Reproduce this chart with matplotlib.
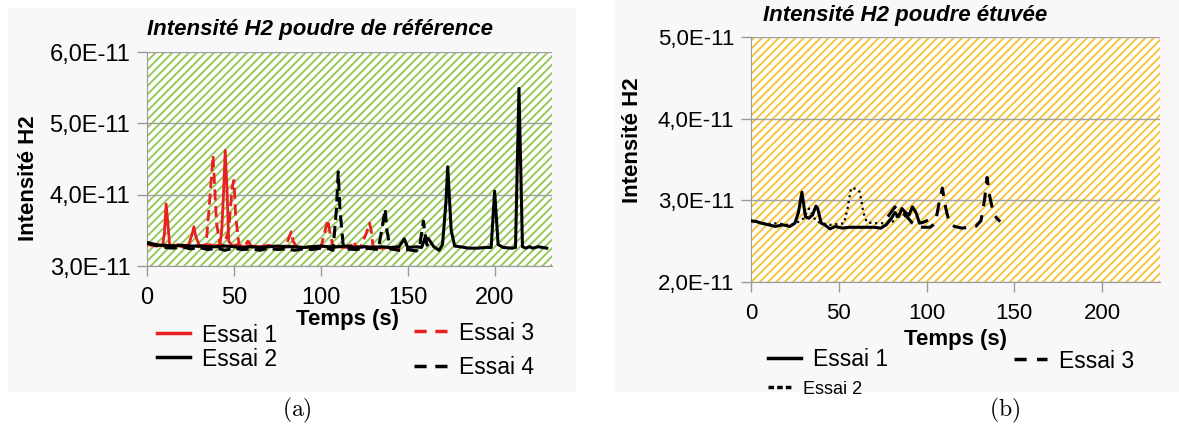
import numpy as np
import matplotlib
matplotlib.use("Agg")
import matplotlib.pyplot as plt
from matplotlib.patches import Rectangle
from matplotlib.lines import Line2D
from matplotlib.ticker import FuncFormatter

plt.rcParams['font.family'] = ['Liberation Sans', 'DejaVu Sans']
plt.rcParams['mathtext.fontset'] = 'cm'
plt.rcParams['hatch.linewidth'] = 1.4

# --- données (a) : poudre de référence, intensité en 1E-11 ---
t_a1 = [0, 3, 6, 9, 10, 11, 12, 13, 15, 18, 21, 24, 26, 27, 28, 30, 33, 36, 39, 42, 43, 44, 45, 46, 47,
        49, 52, 56, 60, 65, 70, 75, 80, 85, 90, 95, 100, 105, 110, 115, 120, 125, 130, 135, 140, 145]
v_a1 = [3.33, 3.31, 3.30, 3.29, 3.45, 3.87, 3.60, 3.30, 3.28, 3.30, 3.28, 3.30, 3.45, 3.55, 3.42, 3.29,
        3.28, 3.30, 3.28, 3.30, 3.50, 4.00, 4.62, 4.10, 3.35, 3.28, 3.30, 3.27, 3.28, 3.27, 3.29, 3.26,
        3.28, 3.27, 3.26, 3.27, 3.28, 3.26, 3.27, 3.26, 3.25, 3.27, 3.26, 3.25, 3.26, 3.25]

t_a2 = [0, 5, 10, 15, 20, 25, 30, 35, 40, 45, 50, 55, 60, 65, 70, 75, 80, 85, 90, 95, 100, 105, 110,
        115, 120, 125, 130, 135, 140, 145, 148, 150, 155, 158, 160, 162, 165, 168, 170, 172, 173, 175,
        177, 180, 185, 190, 195, 198, 200, 202, 205, 210, 212, 214, 216, 218, 220, 222, 225, 230]
v_a2 = [3.32, 3.29, 3.29, 3.28, 3.29, 3.28, 3.28, 3.27, 3.27, 3.28, 3.27, 3.26, 3.27, 3.26, 3.27, 3.28,
        3.27, 3.27, 3.26, 3.27, 3.28, 3.27, 3.27, 3.28, 3.26, 3.27, 3.26, 3.27, 3.26, 3.27, 3.38, 3.26,
        3.27, 3.26, 3.40, 3.38, 3.27, 3.22, 3.30, 3.90, 4.39, 3.50, 3.28, 3.27, 3.25, 3.25, 3.26, 3.26,
        4.05, 3.30, 3.26, 3.25, 3.26, 5.49, 3.27, 3.25, 3.27, 3.25, 3.27, 3.25]

t_a3 = [0, 5, 10, 15, 20, 25, 30, 34, 36, 38, 40, 42, 44, 47, 49, 50, 51, 53, 56, 58, 59, 60, 63, 67,
        72, 76, 80, 82, 83, 84, 86, 90, 95, 100, 102, 104, 105, 107, 110, 115, 118, 119, 120, 123, 126,
        128, 129, 130, 133, 136]
v_a3 = [3.30, 3.28, 3.27, 3.29, 3.27, 3.28, 3.27, 3.30, 3.90, 4.55, 3.60, 3.30, 3.28, 3.50, 4.10, 4.20,
        3.70, 3.28, 3.27, 3.35, 3.32, 3.27, 3.26, 3.28, 3.27, 3.26, 3.28, 3.42, 3.48, 3.35, 3.27, 3.26,
        3.27, 3.26, 3.45, 3.65, 3.50, 3.27, 3.26, 3.27, 3.30, 3.35, 3.28, 3.27, 3.45, 3.60, 3.50, 3.28,
        3.26, 3.25]

t_a4 = [0, 5, 10, 15, 20, 25, 30, 35, 40, 45, 50, 55, 60, 65, 70, 75, 80, 85, 90, 95, 100, 105, 107,
        109, 110, 111, 113, 115, 120, 125, 130, 133, 135, 137, 138, 140, 145, 150, 155, 157, 159, 160,
        161, 163]
v_a4 = [3.33, 3.30, 3.26, 3.25, 3.27, 3.24, 3.26, 3.23, 3.25, 3.22, 3.25, 3.23, 3.24, 3.22, 3.25, 3.23,
        3.24, 3.22, 3.24, 3.23, 3.25, 3.24, 3.22, 3.80, 4.32, 3.80, 3.26, 3.24, 3.23, 3.25, 3.24, 3.23,
        3.50, 3.80, 3.50, 3.24, 3.22, 3.23, 3.21, 3.30, 3.63, 3.45, 3.30, 3.25]

# --- données (b) : poudre étuvée ---
t_b1 = [0, 3, 6, 10, 14, 18, 22, 25, 27, 29, 30, 31, 33, 35, 37, 38, 40, 42, 45, 48, 52, 56, 60, 65,
        70, 74, 77, 80, 82, 84, 86, 88, 90, 92, 94, 96, 98, 100]
v_b1 = [2.75, 2.74, 2.72, 2.70, 2.68, 2.70, 2.68, 2.72, 2.85, 3.10, 2.95, 2.80, 2.78, 2.82, 2.93, 2.90,
        2.72, 2.70, 2.65, 2.68, 2.66, 2.67, 2.67, 2.67, 2.67, 2.66, 2.70, 2.78, 2.85, 2.80, 2.90, 2.85,
        2.82, 2.92, 2.85, 2.72, 2.73, 2.75]

t_b2 = [0, 5, 10, 15, 20, 25, 30, 33, 35, 37, 40, 45, 50, 53, 55, 57, 60, 62, 64, 66, 70, 75, 80, 85, 88]
v_b2 = [2.75, 2.73, 2.71, 2.72, 2.70, 2.71, 2.78, 2.90, 2.82, 2.75, 2.72, 2.70, 2.71, 2.72, 2.90, 3.15,
        3.14, 3.10, 2.85, 2.73, 2.72, 2.72, 2.72, 2.85, 2.80]

t_b3 = [78, 82, 85, 88, 92, 95, 98, 102, 105, 107, 109, 111, 113, 116, 120, 125, 128, 131, 133, 134.5,
        136, 138, 140, 142]
v_b3 = [2.80, 2.92, 2.85, 2.82, 2.72, 2.68, 2.67, 2.67, 2.72, 2.95, 3.15, 2.90, 2.72, 2.68, 2.66, 2.67,
        2.68, 2.75, 3.00, 3.28, 3.05, 2.85, 2.78, 2.74]

W, H = 1179, 432
fig = plt.figure(figsize=(W / 100, H / 100), dpi=100)


def px(x0, y0, x1, y1):
    # pixel box -> fraction de figure
    return [x0 / W, 1 - y1 / H, (x1 - x0) / W, (y1 - y0) / H]


def fmt(v, pos):
    return f"{v / 1e-11:.1f}".replace('.', ',') + "E-11"


# fonds gris des deux panneaux
fig.patches.append(Rectangle((8 / W, 1 - 392 / H), (576 - 8) / W, (392 - 8) / H,
                             transform=fig.transFigure, facecolor='#f8f8f8', edgecolor='none', zorder=-5))
fig.patches.append(Rectangle((615 / W, 1 - 392 / H), (1179 - 615) / W, 392 / H,
                             transform=fig.transFigure, facecolor='#f8f8f8', edgecolor='none', zorder=-5))


def setup(ax, hatch_col, ylo, yhi, tick_fs):
    ax.set_facecolor('none')
    ax.add_patch(Rectangle((0, 0), 1, 1, transform=ax.transAxes, facecolor='white',
                           edgecolor=hatch_col, hatch='////', lw=0, zorder=0))
    ax.set_xlim(0, 233)
    ax.set_ylim(ylo * 1e-11, yhi * 1e-11)
    ax.set_xticks([0, 50, 100, 150, 200])
    ax.set_yticks(np.arange(ylo, yhi + 0.1, 1.0) * 1e-11)
    ax.yaxis.set_major_formatter(FuncFormatter(fmt))
    ax.grid(axis='y', color='#a0a0a0', lw=1)
    ax.set_axisbelow(True)
    for s in ['top', 'right']:
        ax.spines[s].set_visible(False)
    for s in ['left', 'bottom']:
        ax.spines[s].set_color('#9a9a9a')
    ax.tick_params(colors='#9a9a9a', labelcolor='black', labelsize=tick_fs, length=7, width=1)
    ax.tick_params(axis='x', pad=8)
    ax.tick_params(axis='y', pad=5)


def leg_entry(x, y, label, fs=16.5, **kw):
    # une entrée de légende placée en pixels
    h = Line2D([0], [0], **kw)
    lg = fig.legend([h], [label], loc='center left', bbox_to_anchor=(x / W, 1 - y / H),
                    frameon=False, fontsize=fs, handlelength=1.45, handletextpad=0.5,
                    borderaxespad=0, borderpad=0)
    return lg


# ---------- (a) ----------
ax1 = fig.add_axes(px(147, 52, 552, 266))
setup(ax1, '#96c95a', 3, 6, 17)
s = 1e-11
ax1.plot(t_a1, np.array(v_a1) * s, color='#e8201f', lw=2, zorder=3)
ax1.plot(t_a3, np.array(v_a3) * s, color='#e8201f', lw=2, dashes=(4, 2), zorder=3)
ax1.plot(t_a4, np.array(v_a4) * s, color='black', lw=2.2, dashes=(4, 2), zorder=4)
ax1.plot(t_a2, np.array(v_a2) * s, color='black', lw=2.2, zorder=4)

fig.text(147 / W, 1 - 30 / H, 'Intensité H2 poudre de référence', fontsize=16,
         fontweight='bold', fontstyle='italic', ha='left', va='center')
fig.text(28 / W, 1 - 178 / H, 'Intensité H2', fontsize=16, fontweight='bold',
         rotation=90, ha='center', va='center')
fig.text(348 / W, 1 - 319 / H, 'Temps (s)', fontsize=16, fontweight='bold', ha='center', va='center')

leg_entry(157, 335, 'Essai 1', color='#e8201f', lw=2.5)
leg_entry(157, 359, 'Essai 2', color='black', lw=2.5)
leg_entry(414, 333, 'Essai 3', color='#e8201f', lw=2.5, dashes=(3.5, 2.5))
leg_entry(414, 368, 'Essai 4', color='black', lw=2.5, dashes=(3.5, 2.5))
fig.text(297 / W, 1 - 410 / H, r'$\mathrm{(a)}$', fontsize=17, ha='center', va='center')

# ---------- (b) ----------
ax2 = fig.add_axes(px(751, 37, 1160, 282))
setup(ax2, '#f6c33c', 2, 5, 16)
ax2.plot(t_b2, np.array(v_b2) * s, color='black', lw=1.6, ls=':', zorder=3)
ax2.plot(t_b3, np.array(v_b3) * s, color='black', lw=2.2, dashes=(4.5, 3), zorder=3)
ax2.plot(t_b1, np.array(v_b1) * s, color='black', lw=2.2, zorder=4)

fig.text(763 / W, 1 - 15 / H, 'Intensité H2 poudre étuvée', fontsize=16,
         fontweight='bold', fontstyle='italic', ha='left', va='center')
fig.text(633 / W, 1 - 140 / H, 'Intensité H2', fontsize=16, fontweight='bold',
         rotation=90, ha='center', va='center')
fig.text(955 / W, 1 - 340 / H, 'Temps (s)', fontsize=16, fontweight='bold', ha='center', va='center')

leg_entry(768, 360, 'Essai 1', color='black', lw=2.5)
leg_entry(768, 389, 'Essai 2', fs=13, color='black', lw=2.5, dashes=(1.6, 0.9))
leg_entry(1014, 361, 'Essai 3', color='black', lw=2.5, dashes=(3.5, 3))
fig.text(1005 / W, 1 - 410 / H, r'$\mathrm{(b)}$', fontsize=17, ha='center', va='center')

fig.savefig('out.png', dpi=100)
